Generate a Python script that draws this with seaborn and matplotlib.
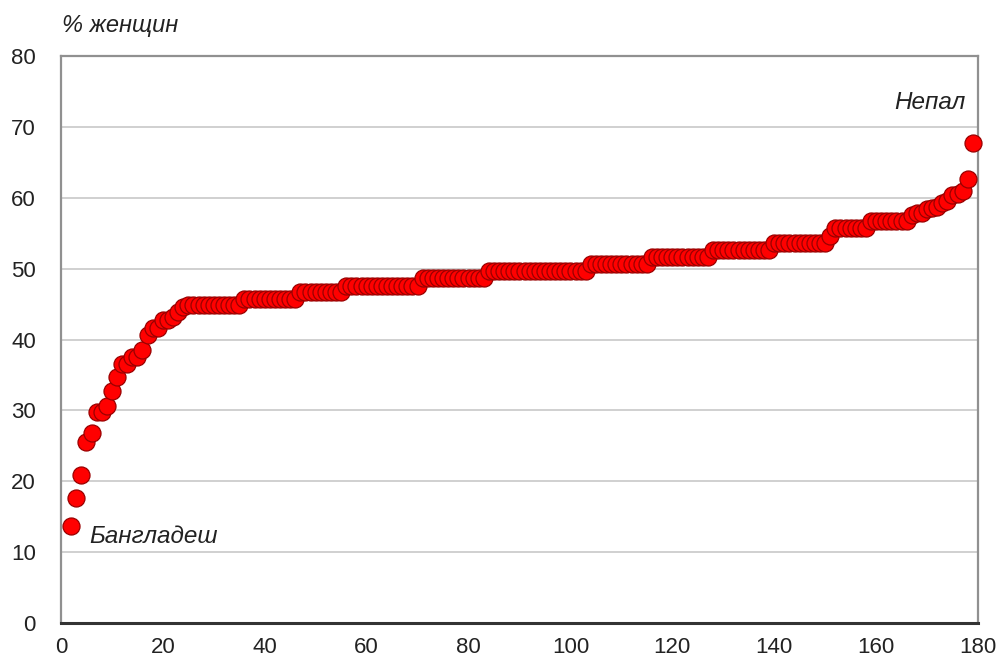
import pandas as pd
import seaborn as sns
import matplotlib.pyplot as plt

# share of women, countries sorted ascending (rank 2..179)
rank = list(range(2, 180))
share = [
    13.7, 17.7, 20.9, 25.6, 26.8, 29.8, 29.8, 30.6, 32.7, 34.7, 36.6, 36.6,
    37.6, 37.6, 38.5, 40.6, 41.6, 41.6, 42.7, 42.7, 43.2, 43.9, 44.6,
    44.8, 44.8, 44.8, 44.8, 44.8, 44.8, 44.8, 44.8, 44.8, 44.8, 44.8,
    45.7, 45.7, 45.7, 45.7, 45.7, 45.7, 45.7, 45.7, 45.7, 45.7, 45.7,
    46.7, 46.7, 46.7, 46.7, 46.7, 46.7, 46.7, 46.7, 46.7,
    47.6, 47.6, 47.6, 47.6, 47.6, 47.6, 47.6, 47.6, 47.6, 47.6, 47.6, 47.6,
    47.6, 47.6, 47.6,
    48.7, 48.7, 48.7, 48.7, 48.7, 48.7, 48.7, 48.7, 48.7, 48.7, 48.7, 48.7,
    48.7,
    49.6, 49.6, 49.6, 49.6, 49.6, 49.6, 49.6, 49.6, 49.6, 49.6, 49.6, 49.6,
    49.6, 49.6, 49.6, 49.6, 49.6, 49.6, 49.6, 49.6,
    50.6, 50.6, 50.6, 50.6, 50.6, 50.6, 50.6, 50.6, 50.6, 50.6, 50.6, 50.6,
    51.6, 51.6, 51.6, 51.6, 51.6, 51.6, 51.6, 51.6, 51.6, 51.6, 51.6, 51.6,
    52.6, 52.6, 52.6, 52.6, 52.6, 52.6, 52.6, 52.6, 52.6, 52.6, 52.6, 52.6,
    53.6, 53.6, 53.6, 53.6, 53.6, 53.6, 53.6, 53.6, 53.6, 53.6, 53.6,
    54.6,
    55.8, 55.8, 55.8, 55.8, 55.8, 55.8, 55.8,
    56.7, 56.7, 56.7, 56.7, 56.7, 56.7, 56.7, 56.7,
    57.6, 57.8, 57.8, 58.4, 58.6, 58.7, 59.3, 59.6, 60.4, 60.6, 60.9, 62.6,
    67.7,
]
xticks = [0, 20, 40, 60, 80, 100, 120, 140, 160, 180]
yticks = [0, 10, 20, 30, 40, 50, 60, 70, 80]

df = pd.DataFrame({"rank": rank, "share": share})

sns.set_style("white")
plt.rcParams['font.family'] = ['Liberation Sans', 'DejaVu Sans']
txt = '#222222'

fig = plt.figure(figsize=(9.96, 6.59), dpi=100)
ax = fig.add_axes([0.0612, 0.0546, 0.9207, 0.8604])

for y in yticks[1:-1]:
    ax.axhline(y, color='#c8c8c8', lw=1.2, zorder=0)

sns.scatterplot(data=df, x="rank", y="share", ax=ax, s=150,
                color='#ff0000', edgecolor='#990000', linewidth=0.9,
                zorder=3, clip_on=False)

ax.set_xlim(0, 180)
ax.set_ylim(0, 80)
ax.set_xticks(xticks)
ax.set_yticks(yticks)
ax.tick_params(axis='x', length=0, pad=10, labelsize=16, colors=txt)
ax.tick_params(axis='y', length=0, pad=18, labelsize=16, colors=txt)
ax.set_xlabel('')
ax.set_ylabel('')

for side in ['top', 'left', 'right']:
    ax.spines[side].set_color('#909090')
    ax.spines[side].set_linewidth(1.6)
ax.spines['bottom'].set_color('#333333')
ax.spines['bottom'].set_linewidth(2.2)

fig.text(0.0622, 0.962, '% женщин', style='italic', fontsize=17,
         color=txt, ha='left', va='center')
ax.text(5.6, 12.2, 'Бангладеш', style='italic', fontsize=17.5,
        color=txt, ha='left', va='center')
ax.text(177.6, 73.5, 'Непал', style='italic', fontsize=17.5,
        color=txt, ha='right', va='center')

fig.savefig('out.png', dpi=100)
